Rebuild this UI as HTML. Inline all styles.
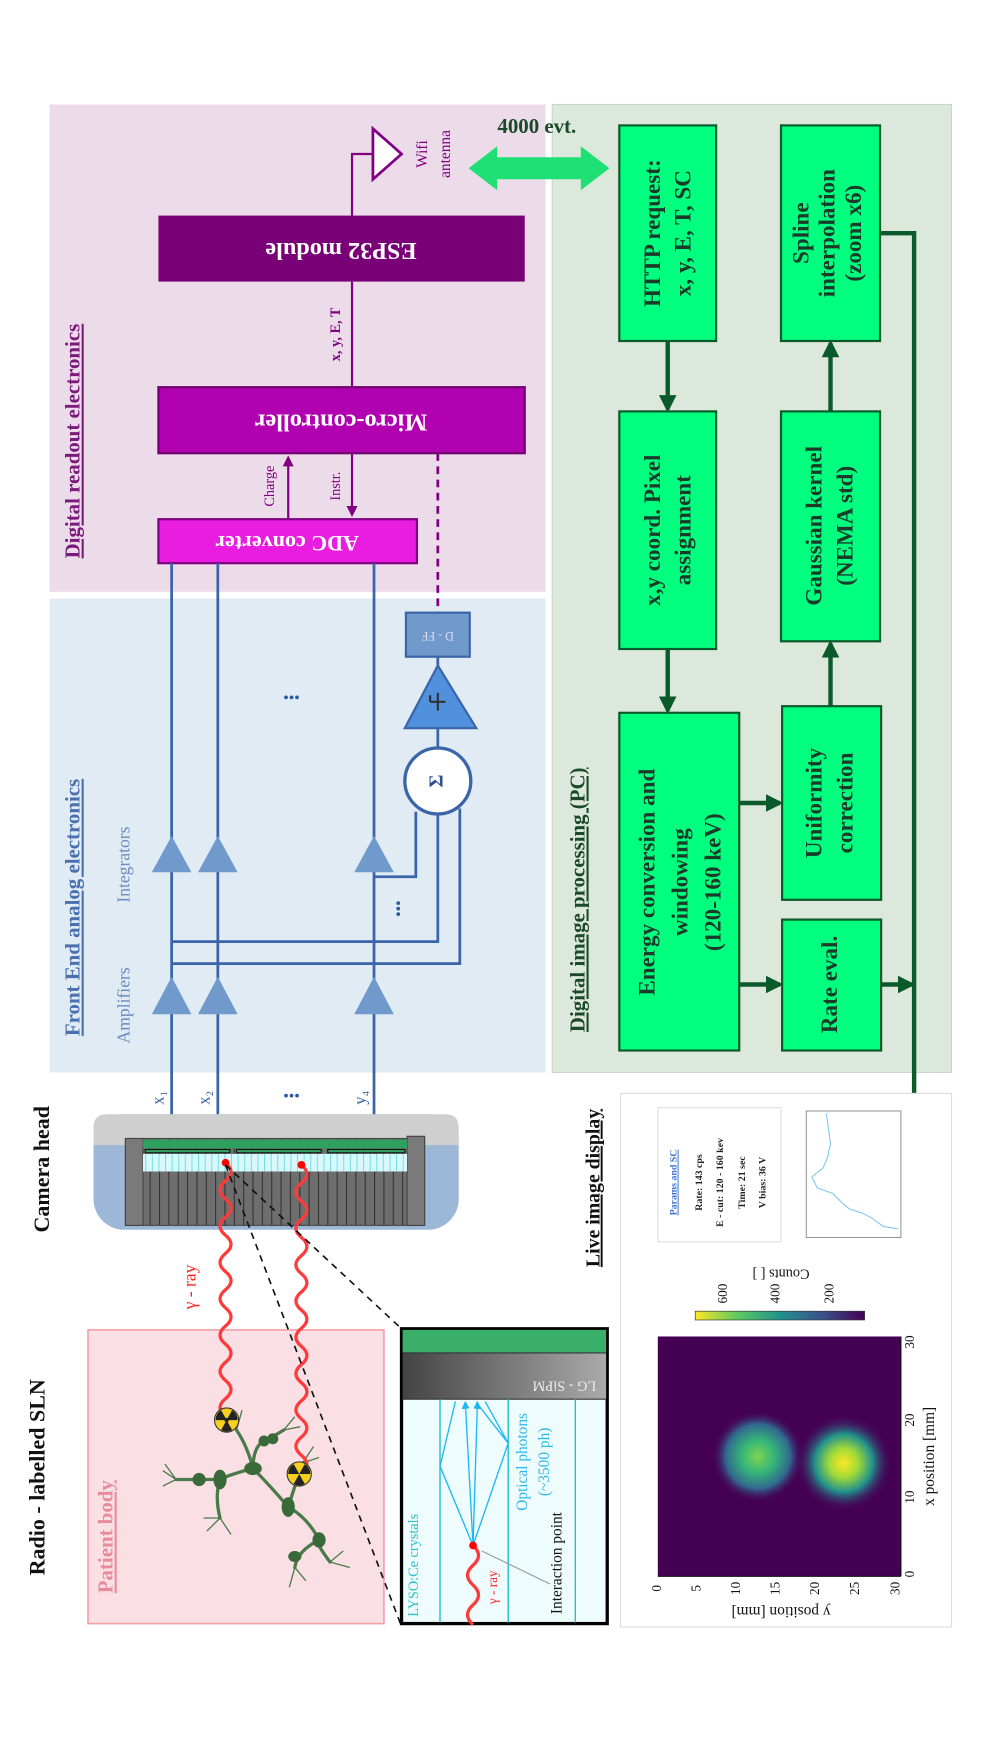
<!DOCTYPE html>
<html><head><meta charset="utf-8"><style>
html,body{margin:0;padding:0;background:#fff}
svg{display:block;font-family:"Liberation Serif",serif}
</style></head><body>
<svg width="983" height="1747" viewBox="0 0 893.6 1588.2" xmlns="http://www.w3.org/2000/svg">
<defs>
<pattern id="cols" width="8.5" height="10" patternUnits="userSpaceOnUse"><rect width="8.5" height="10" fill="#6e6e6e"/><line x1="0.5" y1="0" x2="0.5" y2="10" stroke="#333" stroke-width="1"/></pattern>
<pattern id="cry" width="6" height="10" patternUnits="userSpaceOnUse"><rect width="6" height="10" fill="#d8f8fb"/><line x1="0.5" y1="0" x2="0.5" y2="10" stroke="#6dd" stroke-width="0.8"/></pattern>
<linearGradient id="lg" x1="0" y1="0" x2="1" y2="0"><stop offset="0" stop-color="#444"/><stop offset="1" stop-color="#aaa"/></linearGradient>
<linearGradient id="vir" x1="0" y1="0" x2="1" y2="0"><stop offset="0" stop-color="#fde725"/><stop offset="0.25" stop-color="#5ec962"/><stop offset="0.5" stop-color="#21918c"/><stop offset="0.75" stop-color="#3b528b"/><stop offset="1" stop-color="#440154"/></linearGradient>
<radialGradient id="b1"><stop offset="0" stop-color="#7fd34e"/><stop offset="0.35" stop-color="#35b779"/><stop offset="0.7" stop-color="#31688e"/><stop offset="1" stop-color="#440154" stop-opacity="0"/></radialGradient>
<radialGradient id="b2"><stop offset="0" stop-color="#fde725"/><stop offset="0.3" stop-color="#a0da39"/><stop offset="0.6" stop-color="#21918c"/><stop offset="1" stop-color="#440154" stop-opacity="0"/></radialGradient>
<marker id="ag" viewBox="0 0 10 10" refX="8" refY="5" markerWidth="4" markerHeight="4" orient="auto"><path d="M0,0L10,5L0,10z" fill="#0b5a2a"/></marker>
<marker id="ap" viewBox="0 0 10 10" refX="8" refY="5" markerWidth="5" markerHeight="5" orient="auto"><path d="M0,0L10,5L0,10z" fill="#800080"/></marker>
<marker id="ac" viewBox="0 0 10 10" refX="8" refY="5" markerWidth="6" markerHeight="6" orient="auto"><path d="M0,0L10,5L0,10z" fill="#1ab8ee"/></marker>
</defs>

<!-- regions -->
<rect x="45" y="95" width="451" height="443" fill="#ecdcea"/>
<rect x="45" y="544" width="451" height="431" fill="#e1ebf4"/>
<rect x="502" y="95" width="363" height="880" fill="#dce8dc" stroke="#c8d8c8"/>

<text transform="translate(68,401) rotate(-90)" text-anchor="middle" dominant-baseline="middle" font-size="19" font-weight="bold" fill="#7a1a7a" text-decoration="underline">Digital readout electronics</text>
<text transform="translate(68,825) rotate(-90)" text-anchor="middle" dominant-baseline="middle" font-size="19" font-weight="bold" fill="#4a70b0" text-decoration="underline">Front End analog electronics</text>
<text transform="translate(527,818) rotate(-90)" text-anchor="middle" dominant-baseline="middle" font-size="19" font-weight="bold" fill="#1a4a2a" text-decoration="underline">Digital image processing (PC)</text>

<!-- digital readout -->
<rect x="144" y="472" width="235" height="40" fill="#e81de0" stroke="#800080" stroke-width="2"/>
<text transform="translate(261,492) rotate(180)" text-anchor="middle" dominant-baseline="middle" font-size="20" font-weight="bold" fill="#fff">ADC converter</text>
<rect x="144" y="352" width="333" height="60" fill="#b000b0" stroke="#700070" stroke-width="2"/>
<text transform="translate(310,382) rotate(180)" text-anchor="middle" dominant-baseline="middle" font-size="22" font-weight="bold" fill="#fff">Micro-controller</text>
<rect x="144" y="196" width="333" height="60" fill="#7a0078"/>
<text transform="translate(310,226) rotate(180)" text-anchor="middle" dominant-baseline="middle" font-size="22" font-weight="bold" fill="#fff">ESP32 module</text>
<line x1="320" y1="256" x2="320" y2="352" stroke="#800080" stroke-width="2"/>
<text transform="translate(306,304) rotate(-90)" text-anchor="middle" dominant-baseline="middle" font-size="13" font-weight="bold" fill="#800080">x, y, E, T</text>
<line x1="262" y1="472" x2="262" y2="416" stroke="#800080" stroke-width="2" marker-end="url(#ap)"/>
<line x1="320" y1="412" x2="320" y2="468" stroke="#800080" stroke-width="2" marker-end="url(#ap)"/>
<text transform="translate(246,442) rotate(-90)" text-anchor="middle" dominant-baseline="middle" font-size="13" fill="#800080">Charge</text>
<text transform="translate(306,442) rotate(-90)" text-anchor="middle" dominant-baseline="middle" font-size="13" fill="#800080">Instr.</text>
<line x1="398" y1="412" x2="398" y2="557" stroke="#800080" stroke-width="2.5" stroke-dasharray="7,5"/>
<polyline points="320,196 320,140 339,140" fill="none" stroke="#800080" stroke-width="2"/>
<polygon points="339,117 365,140 339,163" fill="#fff" stroke="#800080" stroke-width="2.5"/>
<text transform="translate(385,140) rotate(-90)" text-anchor="middle" dominant-baseline="middle" font-size="14" fill="#800080">Wifi</text>
<text transform="translate(406,140) rotate(-90)" text-anchor="middle" dominant-baseline="middle" font-size="14" fill="#800080">antenna</text>
<polygon points="426,153 452,133 452,143 528,143 528,133 554,153 528,173 528,163 452,163 452,173" fill="#1ee074"/>
<text x="488" y="121" text-anchor="middle" font-size="19" font-weight="bold" fill="#1a4a2a">4000 evt.</text>

<!-- front end -->
<g stroke="#3a65a8" stroke-width="2.5" fill="none">
<line x1="156" y1="512" x2="156" y2="1045"/>
<line x1="198" y1="512" x2="198" y2="1045"/>
<line x1="340" y1="512" x2="340" y2="1045"/>
<polyline points="378,738 378,797 340,797"/>
<polyline points="398,740 398,856 156,856"/>
<polyline points="418,735 418,876 156,876"/>
<line x1="398" y1="680" x2="398" y2="597"/>
</g>
<g fill="#7099cc">
<polygon points="156,760 138,793 174,793"/><polygon points="198,760 180,793 216,793"/><polygon points="340,760 322,793 358,793"/>
<polygon points="156,888 138,922 174,922"/><polygon points="198,888 180,922 216,922"/><polygon points="340,888 322,922 358,922"/>
</g>
<circle cx="398" cy="710" r="30" fill="#fff" stroke="#3a65a8" stroke-width="3"/>
<text transform="translate(398,710) rotate(-90)" text-anchor="middle" dominant-baseline="middle" font-size="18" font-weight="bold" fill="#2a5090">Σ</text>
<polygon points="398,605 368,662 433,662" fill="#5090dd" stroke="#3a65a8" stroke-width="2"/>
<path d="M391,638 L405,638 M398,630 L398,646 M391,638 L391,632" stroke="#333" stroke-width="2" fill="none"/>
<rect x="369" y="557" width="58" height="40" fill="#7099cc" stroke="#3a65a8" stroke-width="2"/>
<text transform="translate(398,577) rotate(180)" text-anchor="middle" dominant-baseline="middle" font-size="11" fill="#dde">D - FF</text>
<text transform="translate(114,914) rotate(-90)" text-anchor="middle" dominant-baseline="middle" font-size="16" fill="#6a8cc0">Amplifiers</text>
<text transform="translate(114,786) rotate(-90)" text-anchor="middle" dominant-baseline="middle" font-size="16" fill="#6a8cc0">Integrators</text>
<g fill="#2a5aa0"><circle cx="260" cy="634" r="1.7"/><circle cx="265" cy="634" r="1.7"/><circle cx="270" cy="634" r="1.7"/>
<circle cx="362" cy="821" r="1.7"/><circle cx="362" cy="826" r="1.7"/><circle cx="362" cy="831" r="1.7"/>
<circle cx="260" cy="996" r="1.7"/><circle cx="265" cy="996" r="1.7"/><circle cx="270" cy="996" r="1.7"/></g>
<g font-size="15" fill="#2a5aa0" text-anchor="middle" dominant-baseline="middle">
<text transform="translate(145,998) rotate(-90)">x₁</text>
<text transform="translate(187,998) rotate(-90)">x₂</text>
<text transform="translate(329,998) rotate(-90)">y₄</text>
</g>

<!-- green boxes -->
<g fill="#00ff7f" stroke="#0b5a2a" stroke-width="2">
<rect x="563" y="114" width="88" height="196"/>
<rect x="563" y="374" width="88" height="216"/>
<rect x="563" y="648" width="109" height="307"/>
<rect x="710" y="114" width="90" height="196"/>
<rect x="710" y="374" width="90" height="209"/>
<rect x="711" y="642" width="90" height="176"/>
<rect x="711" y="836" width="90" height="119"/>
</g>
<g font-size="21" font-weight="bold" fill="#1a3a2a" text-anchor="middle" dominant-baseline="middle">
<text transform="translate(595,212) rotate(-90)">HTTP request:</text>
<text transform="translate(623,212) rotate(-90)">x, y, E, T, SC</text>
<text transform="translate(595,482) rotate(-90)">x,y coord. Pixel</text>
<text transform="translate(623,482) rotate(-90)">assignment</text>
<text transform="translate(590,802) rotate(-90)">Energy conversion and</text>
<text transform="translate(620,802) rotate(-90)">windowing</text>
<text transform="translate(650,802) rotate(-90)">(120-160 keV)</text>
<text transform="translate(730,212) rotate(-90)">Spline</text>
<text transform="translate(754,212) rotate(-90)">interpolation</text>
<text transform="translate(778,212) rotate(-90)">(zoom x6)</text>
<text transform="translate(742,478) rotate(-90)">Gaussian kernel</text>
<text transform="translate(770,478) rotate(-90)">(NEMA std)</text>
<text transform="translate(742,730) rotate(-90)">Uniformity</text>
<text transform="translate(770,730) rotate(-90)">correction</text>
<text transform="translate(756,895) rotate(-90)">Rate eval.</text>
</g>
<g stroke="#0b5a2a" stroke-width="4" fill="none" marker-end="url(#ag)">
<line x1="607" y1="310" x2="607" y2="372"/>
<line x1="607" y1="590" x2="607" y2="646"/>
<line x1="672" y1="730" x2="709" y2="730"/>
<line x1="672" y1="895" x2="709" y2="895"/>
<line x1="755" y1="642" x2="755" y2="585"/>
<line x1="755" y1="374" x2="755" y2="312"/>
<line x1="801" y1="895" x2="829" y2="895"/>
<polyline points="800,212 831,212 831,1013"/>
</g>

<!-- camera head -->
<rect x="85" y="1013" width="332" height="105" rx="28" fill="#9db8d6"/>
<path d="M85,1041 L85,1025 Q85,1013 97,1013 L405,1013 Q417,1013 417,1025 L417,1041 Z" fill="#cfcfcf"/>
<rect x="114" y="1035" width="272" height="79" fill="url(#cols)" stroke="#444"/>
<rect x="114" y="1035" width="16" height="79" fill="#7a7a7a" stroke="#444"/>
<rect x="370" y="1033" width="16" height="81" fill="#7a7a7a" stroke="#444"/>
<rect x="130" y="1049" width="240" height="16" fill="url(#cry)"/>
<rect x="130" y="1036" width="240" height="8" fill="#2ea060"/>
<g fill="#2ea060" stroke="#111" stroke-width="1"><rect x="132" y="1045" width="77" height="3"/><rect x="215" y="1045" width="77" height="3"/><rect x="298" y="1045" width="70" height="3"/></g>
<text transform="translate(40,1063) rotate(-90)" text-anchor="middle" dominant-baseline="middle" font-size="20" font-weight="bold" fill="#111">Camera head</text>
<text transform="translate(36,1343) rotate(-90)" text-anchor="middle" dominant-baseline="middle" font-size="20" font-weight="bold" fill="#111">Radio - labelled SLN</text>

<!-- patient body -->
<rect x="80" y="1209" width="269" height="267" fill="#fae0e4" stroke="#f4a0aa" stroke-width="1.5"/>
<text transform="translate(98,1397) rotate(-90)" text-anchor="middle" dominant-baseline="middle" font-size="19" font-weight="bold" fill="#e88a9a" text-decoration="underline">Patient body</text>
<g stroke="#4a7a4a" stroke-width="3" fill="none" stroke-linecap="round">
<path d="M300,1420 Q285,1400 290,1400 Q280,1380 262,1370 Q245,1350 230,1335 Q225,1315 215,1300"/>
<path d="M230,1335 Q210,1340 200,1345 Q170,1345 160,1345"/>
<path d="M262,1370 Q270,1345 275,1330"/>
<path d="M230,1335 Q230,1315 240,1310 Q250,1305 258,1300"/>
<path d="M200,1345 Q195,1360 200,1380"/>
<path d="M290,1400 Q270,1410 268,1425"/>
</g>
<g stroke="#4a7a4a" stroke-width="1.2" fill="none">
<path d="M160,1345 l-12,-8 M160,1345 l-10,-14 M160,1345 l-12,6 M215,1300 l-10,-15 M215,1300 l5,-18 M258,1300 l10,-12 M258,1300 l15,-3 M275,1330 l10,-15 M275,1330 l15,-5 M300,1420 l12,-10 M300,1420 l18,5 M268,1425 l-5,18 M268,1425 l10,12 M200,1380 l-12,12 M200,1380 l10,15 M200,1380 l-15,0"/>
</g>
<g fill="#3a6a3a"><ellipse cx="230" cy="1335" rx="8" ry="6"/><ellipse cx="200" cy="1345" rx="6" ry="9"/><ellipse cx="262" cy="1370" rx="6" ry="9"/><ellipse cx="181" cy="1345" rx="6" ry="6"/><ellipse cx="290" cy="1400" rx="6" ry="7"/><ellipse cx="240" cy="1310" rx="5" ry="5"/><ellipse cx="268" cy="1415" rx="6" ry="5"/><ellipse cx="248" cy="1308" rx="5" ry="5"/></g>
<g fill="none" stroke="#ff3a3a" stroke-width="3">
<path d="M205,1057 q10,8.25 0,16.5 t0,16.5 t0,16.5 t0,16.5 t0,16.5 t0,16.5 t0,16.5 t0,16.5 t0,16.5 t0,16.5 t0,16.5 t0,16.5 t0,16.5 t0,16.5"/>
<path d="M274,1059 q10,8.25 0,16.5 t0,16.5 t0,16.5 t0,16.5 t0,16.5 t0,16.5 t0,16.5 t0,16.5 t0,16.5 t0,16.5 t0,16.5 t0,16.5 t0,16.5 t0,16.5 t0,16.5 t0,16.5 t0,16.5"/>
</g>
<circle cx="205" cy="1057" r="3.5" fill="#f00"/><circle cx="274" cy="1059" r="3.5" fill="#f00"/>
<text transform="translate(174,1170) rotate(-90)" text-anchor="middle" dominant-baseline="middle" font-size="16" fill="#f22">γ - ray</text>
<g><circle cx="206" cy="1291" r="11" fill="#f5d020" stroke="#333"/><circle cx="206" cy="1291" r="2" fill="#222"/>
<path d="M206,1291 L216,1291 A10,10 0 0,0 211,1282 Z M206,1291 L201,1282 A10,10 0 0,0 196,1291 Z M206,1291 L201,1300 A10,10 0 0,0 211,1300 Z" fill="#222"/>
<circle cx="272" cy="1340" r="11" fill="#f5d020" stroke="#333"/>
<path d="M272,1340 L282,1340 A10,10 0 0,0 277,1331 Z M272,1340 L267,1331 A10,10 0 0,0 262,1340 Z M272,1340 L267,1349 A10,10 0 0,0 277,1349 Z" fill="#222"/></g>
<g stroke="#111" stroke-width="1.5" stroke-dasharray="6,5"><line x1="205" y1="1059" x2="364" y2="1476"/><line x1="205" y1="1059" x2="365" y2="1208"/></g>

<!-- inset -->
<rect x="365" y="1208" width="187" height="268" fill="#eefcfd" stroke="#000" stroke-width="3"/>
<rect x="366" y="1209" width="185" height="21" fill="#3aaf6a"/>
<rect x="366" y="1230" width="185" height="42" fill="url(#lg)"/>
<line x1="366" y1="1230" x2="551" y2="1230" stroke="#333"/>
<line x1="366" y1="1272" x2="551" y2="1272" stroke="#333"/>
<text transform="translate(513,1259) rotate(180)" text-anchor="middle" dominant-baseline="middle" font-size="13" fill="#eee">LG - SiPM</text>
<g stroke="#2bc0c8" stroke-width="1.3"><line x1="400" y1="1272" x2="400" y2="1475"/><line x1="462" y1="1272" x2="462" y2="1475"/><line x1="523" y1="1272" x2="523" y2="1475"/></g>
<g stroke="#1ab8ee" stroke-width="1.2" fill="none">
<polyline points="430,1405 400,1333 414,1274"/><line x1="430" y1="1405" x2="423" y2="1275" marker-end="url(#ac)"/>
<line x1="430" y1="1405" x2="434" y2="1275" marker-end="url(#ac)"/><polyline points="430,1405 462,1312 441,1274"/>
<line x1="462" y1="1312" x2="433" y2="1275"/>
</g>
<path d="M430,1405 q10,9 0,18 t0,18 t0,18 t0,18" fill="none" stroke="#ff3a3a" stroke-width="3"/>
<circle cx="430" cy="1405" r="3.5" fill="#f00"/>
<line x1="500" y1="1440" x2="438" y2="1410" stroke="#999" stroke-width="1"/>
<text transform="translate(377,1423) rotate(-90)" text-anchor="middle" dominant-baseline="middle" font-size="13" fill="#2bc0c8">LYSO:Ce crystals</text>
<text transform="translate(476,1329) rotate(-90)" text-anchor="middle" dominant-baseline="middle" font-size="14" fill="#2bb8ee">Optical photons</text>
<text transform="translate(496,1329) rotate(-90)" text-anchor="middle" dominant-baseline="middle" font-size="14" fill="#2bb8ee">(~3500 ph)</text>
<text transform="translate(507,1421) rotate(-90)" text-anchor="middle" dominant-baseline="middle" font-size="14" fill="#111">Interaction point</text>
<text transform="translate(449,1443) rotate(-90)" text-anchor="middle" dominant-baseline="middle" font-size="12" fill="#f22">γ - ray</text>

<!-- live image display -->
<rect x="564" y="994" width="301" height="485" fill="#fff" stroke="#ddd"/>
<text transform="translate(541,1080) rotate(-90)" text-anchor="middle" dominant-baseline="middle" font-size="18" font-weight="bold" fill="#111" text-decoration="underline">Live image display</text>
<rect x="598" y="1215" width="221" height="218" fill="#440154"/>
<ellipse cx="689" cy="1324" rx="42" ry="42" fill="url(#b1)"/>
<ellipse cx="767" cy="1330" rx="44" ry="44" fill="url(#b2)"/>
<g stroke="#111" stroke-width="1">
<line x1="819" y1="1215" x2="819" y2="1433"/>
<line x1="598" y1="1433" x2="819" y2="1433"/>
</g>
<g font-size="12" fill="#111" text-anchor="middle" dominant-baseline="middle">
<text transform="translate(828,1431) rotate(-90)">0</text><text transform="translate(828,1361) rotate(-90)">10</text><text transform="translate(828,1291) rotate(-90)">20</text><text transform="translate(828,1220) rotate(-90)">30</text>
<text transform="translate(598,1444) rotate(-90)">0</text><text transform="translate(634,1444) rotate(-90)">5</text><text transform="translate(670,1444) rotate(-90)">10</text><text transform="translate(706,1444) rotate(-90)">15</text><text transform="translate(742,1444) rotate(-90)">20</text><text transform="translate(778,1444) rotate(-90)">25</text><text transform="translate(815,1444) rotate(-90)">30</text>
</g>
<text transform="translate(846,1324) rotate(-90)" text-anchor="middle" dominant-baseline="middle" font-size="14" fill="#111">x position [mm]</text>
<text transform="translate(710,1464) rotate(180)" text-anchor="middle" dominant-baseline="middle" font-size="14" fill="#111">y position [mm]</text>
<rect x="632" y="1192" width="154" height="8" fill="url(#vir)" stroke="#333" stroke-width="0.6"/>
<g font-size="12" fill="#111" text-anchor="middle" dominant-baseline="middle">
<text transform="translate(658,1176) rotate(-90)">600</text><text transform="translate(706,1176) rotate(-90)">400</text><text transform="translate(755,1176) rotate(-90)">200</text>
</g>
<text transform="translate(710,1157) rotate(180)" text-anchor="middle" dominant-baseline="middle" font-size="13" fill="#111">Counts [ ]</text>
<rect x="598" y="1007" width="112" height="122" fill="#fff" stroke="#ddd"/>
<g font-size="9" font-weight="bold" fill="#222" text-anchor="middle" dominant-baseline="middle">
<text transform="translate(613,1075) rotate(-90)" fill="#3a70d0" text-decoration="underline">Params and SC</text>
<text transform="translate(636,1075) rotate(-90)">Rate: 143 cps</text>
<text transform="translate(655,1075) rotate(-90)">E - cut: 120 - 160 kev</text>
<text transform="translate(675,1075) rotate(-90)">Time: 21 sec</text>
<text transform="translate(694,1075) rotate(-90)">V bias: 36 V</text>
</g>
<rect x="733" y="1010" width="86" height="115" fill="#fff" stroke="#999"/>
<polyline points="816,1117 803,1115 792,1107 784,1103 772,1099 764,1092 757,1085 743,1080 738,1070 748,1062 752,1053 755,1040 753,1025 751,1012" fill="none" stroke="#7ec8ee" stroke-width="1"/>
</svg>
</body></html>
